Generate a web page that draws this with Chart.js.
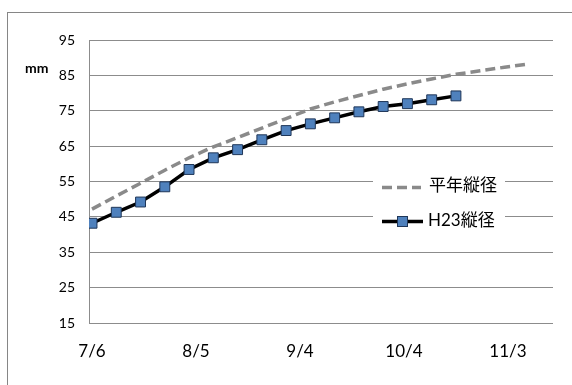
<!DOCTYPE html>
<html>
<head>
<meta charset="utf-8">
<script src="https://cdn.jsdelivr.net/npm/chart.js@4/dist/chart.umd.min.js"></script>
<style>
  html, body { margin: 0; padding: 0; background: #fff; }
  #wrap { position: relative; width: 572px; height: 385px; }
</style>
</head>
<body>
<div id="wrap"><canvas id="c" width="572" height="385"></canvas></div>
<script>
// Days counted from 7/6; the axis is labelled every 30 days.
const dateTickDays = [0, 30, 60, 90, 120];
const dateLabels = ['7/6', '8/5', '9/4', '10/4', '11/3'];

// Fruit length (mm): normal-year average, weekly
const normalDays = [0, 7, 14, 21, 28, 35, 42, 49, 56, 63, 70, 77, 84, 91, 98, 105, 112, 119, 126];
const normalValues = [47.2, 50.9, 54.5, 58.2, 61.7, 64.8, 67.4, 70.1, 72.8, 75.5, 77.5, 79.3, 81.1, 82.6, 84.0, 85.3, 86.3, 87.3, 88.2];

// Fruit length (mm): H23 survey, weekly
const h23Days = [0, 7, 14, 21, 28, 35, 42, 49, 56, 63, 70, 77, 84, 91, 98, 105];
const h23Values = [43.2, 46.3, 49.2, 53.5, 58.4, 61.7, 64.0, 66.8, 69.4, 71.3, 73.0, 74.7, 76.2, 77.0, 78.1, 79.2];

// Value axis
const yMin = 15, yMax = 95, yStep = 10;
const seriesNames = ['平年縦径', 'H23縦径'];
const unitLabel = 'mm';

const GRID = '#8c8c8c';
const DASHED = '#8a8a8a';
const MARKER_FILL = '#4f81bd';
const MARKER_EDGE = '#1f3658';
const LATIN = 'Lato, "Noto Sans CJK JP", sans-serif';

const frameAndLegend = {
  id: 'frameAndLegend',
  afterDraw(chart) {
    const c = chart.ctx;
    c.save();
    // outer chart frame
    c.strokeStyle = '#868686';
    c.lineWidth = 1;
    c.strokeRect(7.5, 12.5, 700, 500);

    // unit label
    c.fillStyle = '#000';
    c.font = 'bold 14px ' + LATIN;
    c.textBaseline = 'middle';
    c.textAlign = 'left';
    c.fillText(unitLabel, 25, 68);

    // legend box sitting on the plot
    c.fillStyle = '#fff';
    c.fillRect(373, 168, 132, 68);

    // row 1: dashed line
    c.strokeStyle = DASHED;
    c.lineWidth = 3.5;
    c.setLineDash([10, 5]);
    c.beginPath();
    c.moveTo(382, 187.5);
    c.lineTo(421, 187.5);
    c.stroke();
    c.setLineDash([]);

    // row 2: line with square marker
    c.strokeStyle = '#000';
    c.beginPath();
    c.moveTo(382, 221.5);
    c.lineTo(423, 221.5);
    c.stroke();
    c.fillStyle = MARKER_FILL;
    c.strokeStyle = MARKER_EDGE;
    c.lineWidth = 1;
    c.fillRect(397.5, 216.5, 10, 10);
    c.strokeRect(397.5, 216.5, 10, 10);

    c.fillStyle = '#000';
    c.font = '17px ' + LATIN;
    c.textBaseline = 'middle';
    c.fillText(seriesNames[0], 429, 186);
    c.fillText(seriesNames[1], 428, 221);
    c.restore();
  }
};

new Chart(document.getElementById('c'), {
  type: 'line',
  data: {
    datasets: [
      {
        label: seriesNames[0],
        data: normalDays.map((d, i) => ({ x: d, y: normalValues[i] })),
        borderColor: DASHED,
        borderWidth: 3.5,
        borderDash: [10, 5],
        pointRadius: 0,
        tension: 0,
        fill: false
      },
      {
        label: seriesNames[1],
        data: h23Days.map((d, i) => ({ x: d, y: h23Values[i] })),
        borderColor: '#000',
        borderWidth: 3.5,
        pointStyle: 'rect',
        pointRadius: 7,
        pointBackgroundColor: MARKER_FILL,
        pointBorderColor: MARKER_EDGE,
        pointBorderWidth: 1,
        tension: 0,
        fill: false
      }
    ]
  },
  options: {
    responsive: false,
    animation: false,
    devicePixelRatio: 1,
    layout: { padding: { left: 0, top: 40, right: 19, bottom: 0 } },
    plugins: { legend: { display: false }, tooltip: { enabled: false } },
    scales: {
      x: {
        type: 'linear',
        min: -0.87,
        max: 133,
        afterBuildTicks: s => { s.ticks = dateTickDays.map(v => ({ value: v })); },
        afterFit: s => { s.height = 62; },
        ticks: {
          callback: (v, i) => dateLabels[i],
          font: { family: LATIN, size: 17 },
          color: '#000',
          padding: 18,
          maxRotation: 0,
          autoSkip: false
        },
        grid: { display: false, drawTicks: false },
        border: { display: false }
      },
      y: {
        min: yMin,
        max: yMax,
        afterFit: s => { s.width = 89; },
        ticks: {
          stepSize: yStep,
          font: { family: LATIN, size: 14 },
          color: '#000',
          padding: 14
        },
        grid: { color: GRID, drawTicks: false },
        border: { color: GRID }
      }
    }
  },
  plugins: [frameAndLegend]
});
</script>
</body>
</html>
